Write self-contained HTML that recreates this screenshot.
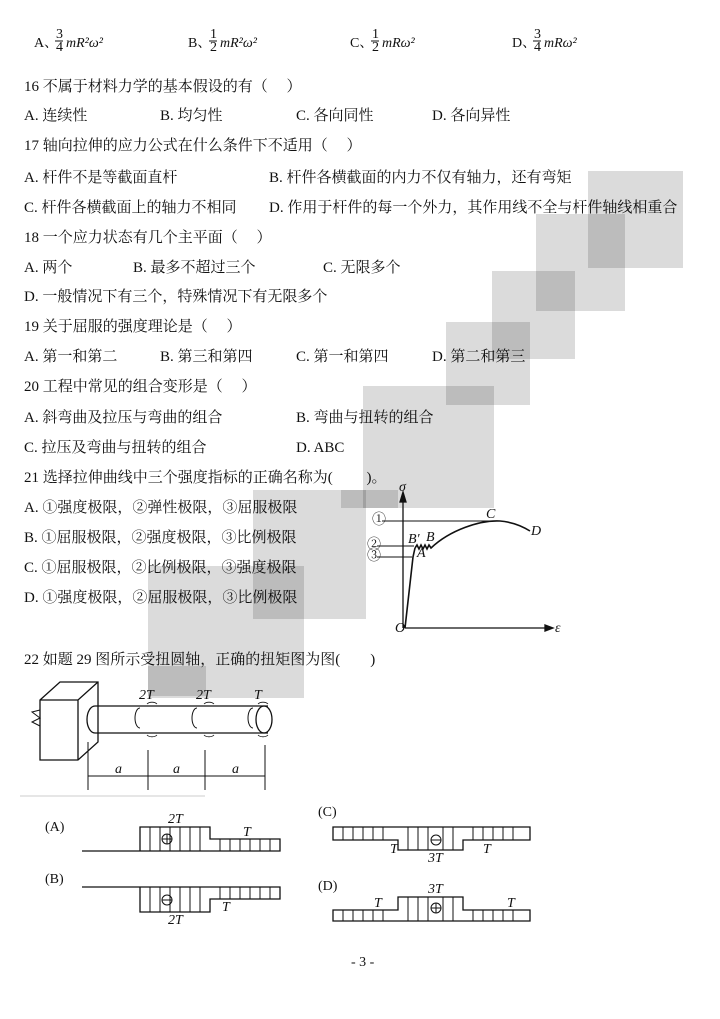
<!DOCTYPE html>
<html><head><meta charset="utf-8"><style>
body{margin:0;background:#fff}
svg{display:block}
text{font-family:"Liberation Serif","Noto Serif CJK SC",serif;font-size:14px;fill:#111}
.t text{font-size:15px}
.f{font-family:"Liberation Serif",serif;font-style:italic}
.g{fill:#000;fill-opacity:0.14}
</style></head><body>
<svg width="720" height="1019" viewBox="0 0 720 1019" xmlns="http://www.w3.org/2000/svg">
<!-- formulas -->
<g font-size="13">
<text x="34" y="47">A、</text><text x="56" y="38" font-size="10">3</text><line x1="55" y1="41" x2="63" y2="41" stroke="#111"/><text x="56" y="51" font-size="10">4</text><text class="f" x="66" y="47" font-size="16">mR²ω²</text>
<text x="188" y="47">B、</text><text x="210" y="38" font-size="10">1</text><line x1="209" y1="41" x2="217" y2="41" stroke="#111"/><text x="210" y="51" font-size="10">2</text><text class="f" x="220" y="47" font-size="16">mR²ω²</text>
<text x="350" y="47">C、</text><text x="372" y="38" font-size="10">1</text><line x1="371" y1="41" x2="379" y2="41" stroke="#111"/><text x="372" y="51" font-size="10">2</text><text class="f" x="382" y="47" font-size="16">mRω²</text>
<text x="512" y="47">D、</text><text x="534" y="38" font-size="10">3</text><line x1="533" y1="41" x2="541" y2="41" stroke="#111"/><text x="534" y="51" font-size="10">4</text><text class="f" x="544" y="47" font-size="16">mRω²</text>
</g>
<g class="t">
<text x="24" y="91">16 不属于材料力学的基本假设的有（　 ）</text>
<text x="24" y="120">A.  连续性</text><text x="160" y="120">B.  均匀性</text><text x="296" y="120">C.  各向同性</text><text x="432" y="120">D.  各向异性</text>
<text x="24" y="150">17 轴向拉伸的应力公式在什么条件下不适用（　 ）</text>
<text x="24" y="182">A. 杆件不是等截面直杆</text><text x="269" y="182">B. 杆件各横截面的内力不仅有轴力，还有弯矩</text>
<text x="24" y="212">C. 杆件各横截面上的轴力不相同</text><text x="269" y="212">D. 作用于杆件的每一个外力，其作用线不全与杆件轴线相重合</text>
<text x="24" y="242">18 一个应力状态有几个主平面（　 ）</text>
<text x="24" y="272">A.   两个</text><text x="133" y="272">B.   最多不超过三个</text><text x="323" y="272">C.   无限多个</text>
<text x="24" y="301">D.   一般情况下有三个，特殊情况下有无限多个</text>
<text x="24" y="331">19 关于屈服的强度理论是（　 ）</text>
<text x="24" y="361">A.   第一和第二</text><text x="160" y="361">B.   第三和第四</text><text x="296" y="361">C.   第一和第四</text><text x="432" y="361">D.   第二和第三</text>
<text x="24" y="391">20 工程中常见的组合变形是（　 ）</text>
<text x="24" y="422">A.   斜弯曲及拉压与弯曲的组合</text><text x="296" y="422">B.   弯曲与扭转的组合</text>
<text x="24" y="452">C.   拉压及弯曲与扭转的组合</text><text x="296" y="452">D.   ABC</text>
<text x="24" y="482">21 选择拉伸曲线中三个强度指标的正确名称为(　　 )。</text>
<text x="24" y="512">A. ①强度极限，②弹性极限，③屈服极限</text>
<text x="24" y="542">B. ①屈服极限，②强度极限，③比例极限</text>
<text x="24" y="572">C. ①屈服极限，②比例极限，③强度极限</text>
<text x="24" y="602">D. ①强度极限，②屈服极限，③比例极限</text>
<text x="24" y="664">22 如题 29 图所示受扭圆轴，正确的扭矩图为图(　　)</text>
</g>
<!-- gray boxes -->
<rect class="g" x="588" y="171" width="95" height="97"/>
<rect class="g" x="536" y="214" width="89" height="97"/>
<rect class="g" x="492" y="271" width="83" height="88"/>
<rect class="g" x="446" y="322" width="84" height="83"/>
<rect class="g" x="363" y="386" width="131" height="122"/>
<rect class="g" x="341" y="490" width="57" height="18"/>
<rect class="g" x="253" y="490" width="113" height="129"/>
<rect class="g" x="148" y="566" width="156" height="132"/>
<rect class="g" x="148" y="666" width="58" height="30"/>
<!-- stress-strain -->
<g stroke="#111" fill="none" stroke-width="1.3">
<line x1="405" y1="628" x2="545" y2="628"/><path d="M545 625 L553 628 L545 631Z" fill="#111"/>
<line x1="403" y1="628" x2="403" y2="494"/><path d="M400 502 L403 492 L406 502Z" fill="#111"/>
<line x1="382" y1="521" x2="500" y2="521" stroke-width="1"/>
<line x1="377" y1="546" x2="414" y2="546" stroke-width="1"/>
<line x1="377" y1="557" x2="412" y2="557" stroke-width="1"/>
<path d="M405 628 L413 557 L415 548 M415 548 l2 -3 l2 4 l2 -4 l2 4 l2 -4 l2 4 l2 -4 l2 3 C450 530 480 520 500 521 C512 522 522 526 530 531" stroke-width="1.6"/>
</g>
<g font-size="9"><text x="372" y="524">①</text><text x="367" y="549">②</text><text x="367" y="560">③</text></g>
<g><text class="f" x="399" y="491" font-size="9">σ</text><text class="f" x="486" y="518" font-size="10">C</text><text class="f" x="531" y="535" font-size="10">D</text><text class="f" x="408" y="543" font-size="10">B′</text><text class="f" x="426" y="541" font-size="10">B</text><text class="f" x="417" y="557" font-size="10">A</text><text class="f" x="395" y="632" font-size="10">O</text><text class="f" x="555" y="632" font-size="10">ε</text></g>
<!-- shaft -->
<g stroke="#111" fill="none" stroke-width="1.3">
<path d="M40 700 L60 682 L98 682 L98 742 L78 760 L40 760 Z M40 700 L78 700 L98 682 M78 700 L78 760"/>
<path d="M40 710 L32 712 L40 718 L32 722 L40 726" stroke-width="1"/>
<path d="M95 706 L268 706 M95 733 L268 733 M95 706 A8 13.5 0 0 0 95 733"/>
<ellipse cx="264" cy="719.5" rx="8" ry="13.5"/>
<path d="M140 708 a5 10 0 0 0 0 20" stroke-width="1"/><path d="M197 708 a5 10 0 0 0 0 20" stroke-width="1"/><path d="M253 708 a5 10 0 0 0 0 20" stroke-width="1"/>
<path d="M147 704 a6 4 0 0 1 10 0 M147 735 a6 4 0 0 0 10 0 M204 704 a6 4 0 0 1 10 0 M204 735 a6 4 0 0 0 10 0 M258 704 a6 4 0 0 1 10 0 M258 735 a6 4 0 0 0 10 0" stroke-width="0.8"/>
<line x1="88" y1="742" x2="88" y2="790" stroke-width="1"/><line x1="148" y1="750" x2="148" y2="790" stroke-width="1"/><line x1="205" y1="750" x2="205" y2="790" stroke-width="1"/><line x1="265" y1="745" x2="265" y2="790" stroke-width="1"/>
<line x1="88" y1="776" x2="265" y2="776" stroke-width="1"/>
<line x1="20" y1="796" x2="205" y2="796" stroke="#ccc" stroke-width="1"/>
</g>
<g><text class="f" x="139" y="699" font-size="12">2T</text><text class="f" x="196" y="699" font-size="12">2T</text><text class="f" x="254" y="699" font-size="12">T</text>
<text class="f" x="115" y="773" font-size="11">a</text><text class="f" x="173" y="773" font-size="11">a</text><text class="f" x="232" y="773" font-size="11">a</text></g>
<!-- torque diagrams -->
<g stroke="#111" fill="none" stroke-width="1.3">
<path d="M82 851 L140 851 L140 827 L210 827 L210 839 L280 839 L280 851 L140 851"/>
<path d="M150 827V851M160 827V851M170 827V851M180 827V851M190 827V851M200 827V851M220 839V851M230 839V851M240 839V851M250 839V851M260 839V851M270 839V851" stroke-width="1"/>
<circle cx="167" cy="839" r="5" stroke-width="1"/><path d="M162 839h10M167 834v10" stroke-width="1"/>
<path d="M82 887 L140 887 L140 912 L210 912 L210 899 L280 899 L280 887 L140 887"/>
<path d="M150 887V912M160 887V912M170 887V912M180 887V912M190 887V912M200 887V912M220 887V899M230 887V899M240 887V899M250 887V899M260 887V899M270 887V899" stroke-width="1"/>
<circle cx="167" cy="900" r="5" stroke-width="1"/><path d="M162 900h10" stroke-width="1"/>
<path d="M333 827 L530 827 L530 840 L463 840 L463 850 L398 850 L398 840 L333 840 Z"/>
<path d="M343 827V840M353 827V840M363 827V840M373 827V840M383 827V840M408 827V850M418 827V850M428 827V850M443 827V850M453 827V850M473 827V840M483 827V840M493 827V840M503 827V840M513 827V840" stroke-width="1"/>
<circle cx="436" cy="840" r="5" stroke-width="1"/><path d="M431 840h10" stroke-width="1"/>
<path d="M333 921 L530 921 L530 910 L463 910 L463 897 L398 897 L398 910 L333 910 Z"/>
<path d="M343 910V921M353 910V921M363 910V921M373 910V921M383 910V921M408 897V921M418 897V921M428 897V921M443 897V921M453 897V921M473 910V921M483 910V921M493 910V921M503 910V921M513 910V921" stroke-width="1"/>
<circle cx="436" cy="908" r="5" stroke-width="1"/><path d="M431 908h10M436 903v10" stroke-width="1"/>
</g>
<g font-size="13">
<text x="45" y="831">(A)</text><text x="45" y="883">(B)</text><text x="318" y="816">(C)</text><text x="318" y="890">(D)</text>
<text class="f" x="168" y="823" font-size="12">2T</text><text class="f" x="243" y="836" font-size="12">T</text>
<text class="f" x="168" y="924" font-size="12">2T</text><text class="f" x="222" y="911" font-size="12">T</text>
<text class="f" x="390" y="853" font-size="12">T</text><text class="f" x="428" y="862" font-size="12">3T</text><text class="f" x="483" y="853" font-size="12">T</text>
<text class="f" x="428" y="893" font-size="12">3T</text><text class="f" x="374" y="907" font-size="12">T</text><text class="f" x="507" y="907" font-size="12">T</text>
</g>
<text x="351" y="966" font-size="12">- 3 -</text>
</svg>
</body></html>
